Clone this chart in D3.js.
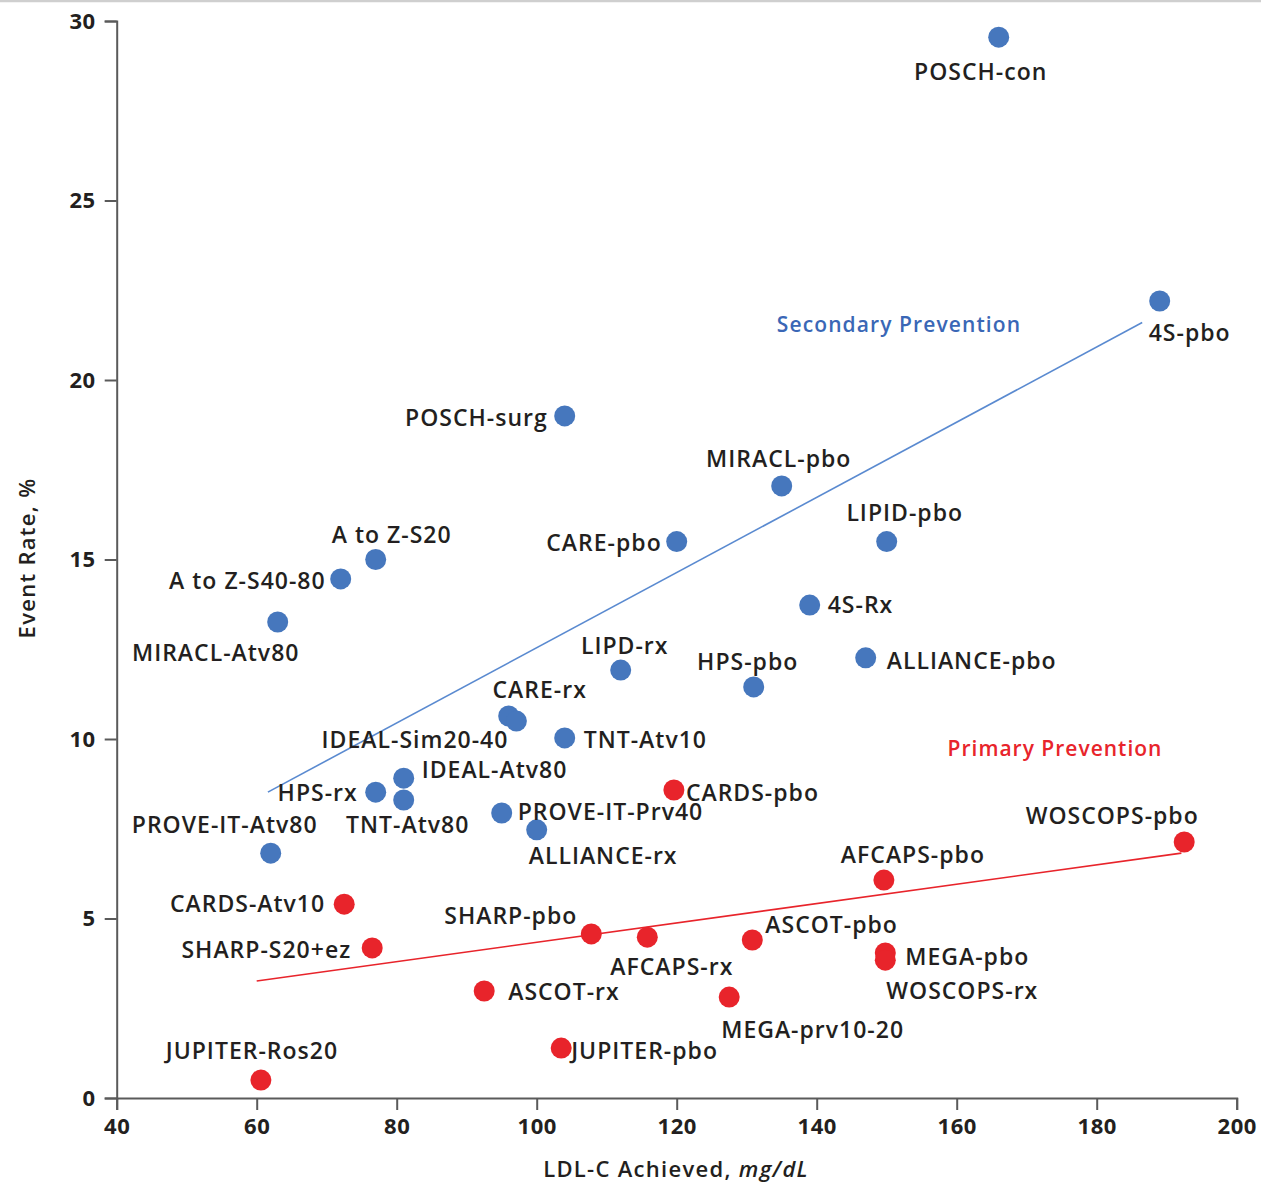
<!DOCTYPE html>
<html>
<head>
<meta charset="utf-8">
<script src="https://cdn.jsdelivr.net/npm/d3@7"></script>
<style>
  html, body { margin: 0; padding: 0; background: #fff; }
  svg { display: block; }
  .lbl { font-family: "Open Sans", sans-serif; font-weight: 600; font-size: 23px; fill: #231f20; letter-spacing: 1px; }
  .tick text { font-family: "Open Sans", sans-serif; font-weight: 700; font-size: 22px; fill: #231f20; letter-spacing: 0.5px; }
  .axis-title { font-family: "Open Sans", sans-serif; font-weight: 600; font-size: 22px; fill: #231f20; letter-spacing: 1.3px; }
</style>
</head>
<body>
<svg id="chart" width="1261" height="1185"></svg>
<script>
// Secondary-prevention trials: achieved LDL-C (mg/dL) and event rate (%)
const secondaryNames = ["POSCH-con", "4S-pbo", "POSCH-surg", "MIRACL-pbo", "CARE-pbo", "LIPID-pbo",
  "A to Z-S20", "A to Z-S40-80", "MIRACL-Atv80", "4S-Rx", "LIPD-rx", "HPS-pbo", "ALLIANCE-pbo",
  "CARE-rx", "IDEAL-Sim20-40", "TNT-Atv10", "IDEAL-Atv80", "HPS-rx", "TNT-Atv80",
  "PROVE-IT-Prv40", "ALLIANCE-rx", "PROVE-IT-Atv80"];
const secondaryLDL = [166, 189, 104, 135, 120, 150, 77, 72, 63, 139, 112, 131, 147,
  96, 97.1, 104, 81, 77, 81, 95, 100, 62];
const secondaryRate = [29.55, 22.2, 19.0, 17.05, 15.5, 15.5, 15.0, 14.46, 13.26, 13.73, 11.92, 11.45, 12.26,
  10.64, 10.5, 10.03, 8.91, 8.52, 8.3, 7.94, 7.47, 6.82];

// Primary-prevention trials
const primaryNames = ["CARDS-pbo", "WOSCOPS-pbo", "AFCAPS-pbo", "CARDS-Atv10", "SHARP-S20+ez", "SHARP-pbo",
  "AFCAPS-rx", "ASCOT-pbo", "MEGA-pbo", "WOSCOPS-rx", "ASCOT-rx", "MEGA-prv10-20", "JUPITER-pbo", "JUPITER-Ros20"];
const primaryLDL = [119.6, 192.5, 149.6, 72.5, 76.5, 107.8, 115.8, 130.8, 149.8, 149.8, 92.5, 127.5, 103.5, 60.6];
const primaryRate = [8.58, 7.13, 6.07, 5.4, 4.18, 4.57, 4.48, 4.4, 4.04, 3.84, 2.98, 2.81, 1.39, 0.5];

// Fitted trend lines (endpoints in data units)
const secondaryTrendLDL = [61.6, 186.5];
const secondaryTrendRate = [8.52, 21.6];
const primaryTrendLDL = [60, 192.1];
const primaryTrendRate = [3.26, 6.82];

// Axis ticks
const xTicks = [40, 60, 80, 100, 120, 140, 160, 180, 200];
const yTicks = [0, 5, 10, 15, 20, 25, 30];

// Label placement around each dot: [dx, dy, anchor] in pixels
const labelPlacement = {
  "POSCH-con": [-18, 34, "middle"], "4S-pbo": [-11, 31, "start"], "POSCH-surg": [-17, 1, "end"],
  "MIRACL-pbo": [-3, -28, "middle"], "CARE-pbo": [-15, 0, "end"], "LIPID-pbo": [18, -30, "middle"],
  "A to Z-S20": [16, -26, "middle"], "A to Z-S40-80": [-15, 1, "end"], "MIRACL-Atv80": [-62, 30, "middle"],
  "4S-Rx": [18, -1, "start"], "LIPD-rx": [4, -25, "middle"], "HPS-pbo": [-6, -26, "middle"],
  "ALLIANCE-pbo": [21, 2, "start"], "CARE-rx": [31, -27, "middle"], "IDEAL-Sim20-40": [-8, 18, "end"],
  "TNT-Atv10": [19, 1, "start"], "IDEAL-Atv80": [18, -9, "start"], "HPS-rx": [-18, 0, "end"],
  "TNT-Atv80": [4, 24, "middle"], "PROVE-IT-Prv40": [16, -2, "start"], "ALLIANCE-rx": [-8, 25, "start"],
  "PROVE-IT-Atv80": [-46, -29, "middle"],
  "CARDS-pbo": [12, 2, "start"], "WOSCOPS-pbo": [-72, -27, "middle"], "AFCAPS-pbo": [29, -26, "middle"],
  "CARDS-Atv10": [-19, -1, "end"], "SHARP-S20+ez": [-21, 1, "end"], "SHARP-pbo": [-14, -19, "end"],
  "AFCAPS-rx": [-37, 29, "start"], "ASCOT-pbo": [13, -16, "start"], "MEGA-pbo": [20, 3, "start"],
  "WOSCOPS-rx": [1, 30, "start"], "ASCOT-rx": [24, 0, "start"], "MEGA-prv10-20": [-8, 32, "start"],
  "JUPITER-pbo": [10, 2, "start"], "JUPITER-Ros20": [-9, -30, "middle"]
};

const BLUE = "#4677bd";
const BLUE_LINE = "#5a8ad0";
const RED = "#e8242b";

const svg = d3.select("#chart");

// thin rule across the top edge
svg.append("line").attr("x1", 0).attr("x2", 1261).attr("y1", 1).attr("y2", 1)
  .attr("stroke", "#cfcfcf").attr("stroke-width", 2.5);

const x = d3.scaleLinear().domain([40, 200]).range([116.7, 1236.7]);
const y = d3.scaleLinear().domain([0, 30]).range([1098, 21]);

function styleAxis(g) {
  g.select(".domain").attr("stroke", "#5a5a5a").attr("stroke-width", 2);
  g.selectAll(".tick line").attr("stroke", "#5a5a5a").attr("stroke-width", 2);
}

svg.append("g").attr("transform", `translate(0,${y(0)})`)
  .call(d3.axisBottom(x).tickValues(xTicks).tickSize(12).tickPadding(8).tickFormat(d3.format("d")))
  .call(styleAxis);

svg.append("g").attr("transform", `translate(${x(40)},0)`)
  .call(d3.axisLeft(y).tickValues(yTicks).tickSize(12).tickPadding(9).tickFormat(d3.format("d")))
  .call(styleAxis);

// axis titles
svg.append("text").attr("class", "axis-title")
  .attr("transform", `translate(26,558) rotate(-90)`)
  .attr("text-anchor", "middle").attr("dominant-baseline", "central")
  .text("Event Rate, %");

const xt = svg.append("text").attr("class", "axis-title")
  .attr("x", 676).attr("y", 1168).attr("text-anchor", "middle").attr("dominant-baseline", "central");
xt.append("tspan").text("LDL-C Achieved, ");
xt.append("tspan").attr("font-style", "italic").text("mg/dL");

// trend lines
const line = d3.line().x(d => x(d[0])).y(d => y(d[1]));
svg.append("path").datum(d3.zip(secondaryTrendLDL, secondaryTrendRate))
  .attr("d", line).attr("fill", "none").attr("stroke", BLUE_LINE).attr("stroke-width", 1.6);
svg.append("path").datum(d3.zip(primaryTrendLDL, primaryTrendRate))
  .attr("d", line).attr("fill", "none").attr("stroke", RED).attr("stroke-width", 1.6);

// group captions
svg.append("text").attr("x", 899).attr("y", 324).attr("text-anchor", "middle").attr("dominant-baseline", "central")
  .attr("font-family", "'Open Sans', sans-serif").attr("font-weight", 600).attr("font-size", 21)
  .attr("letter-spacing", 1.1).attr("fill", "#3a67b6").text("Secondary Prevention");
svg.append("text").attr("x", 1055).attr("y", 748).attr("text-anchor", "middle").attr("dominant-baseline", "central")
  .attr("font-family", "'Open Sans', sans-serif").attr("font-weight", 600).attr("font-size", 21)
  .attr("letter-spacing", 1).attr("fill", RED).text("Primary Prevention");

function drawGroup(names, ldl, rate, color) {
  const data = names.map((n, i) => ({ name: n, ldl: ldl[i], rate: rate[i] }));
  const g = svg.append("g");
  g.selectAll("circle").data(data).join("circle")
    .attr("cx", d => x(d.ldl)).attr("cy", d => y(d.rate)).attr("r", 10.5)
    .attr("fill", color);
  g.selectAll("text").data(data).join("text").attr("class", "lbl")
    .attr("x", d => x(d.ldl) + labelPlacement[d.name][0])
    .attr("y", d => y(d.rate) + labelPlacement[d.name][1])
    .attr("text-anchor", d => labelPlacement[d.name][2])
    .attr("dominant-baseline", "central")
    .text(d => d.name);
}

drawGroup(secondaryNames, secondaryLDL, secondaryRate, BLUE);
drawGroup(primaryNames, primaryLDL, primaryRate, RED);
</script>
</body>
</html>
